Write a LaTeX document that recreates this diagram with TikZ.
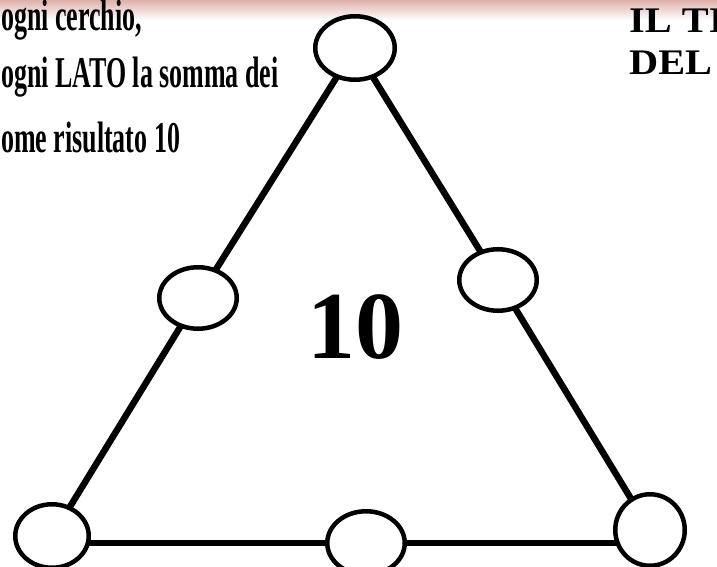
\documentclass[tikz,border=0pt]{standalone}
\usepackage{fontspec}
\usepackage{graphicx}
\setmainfont{Liberation Serif}
\usetikzlibrary{shapes.geometric,backgrounds}
\definecolor{bandpink}{RGB}{224,176,170}
\tikzset{
  ring/.style={draw=black, fill=white, ellipse, line width=4.5pt, inner sep=0pt},
  side/.style={draw=black, line width=6.5pt},
  hint/.style={anchor=base west, inner sep=0pt, font=\fontsize{44}{44}\selectfont\bfseries},
  title/.style={anchor=base west, inner sep=0pt, font=\fontsize{36}{36}\selectfont\bfseries},
}
\begin{document}
\begin{tikzpicture}[x=1pt,y=-1pt]
\useasboundingbox (0,0) rectangle (717,567);
\clip (0,0) rectangle (717,567);
% circles
\node[ring, minimum width=79.5pt, minimum height=63.5pt] (top) at (355,48) {};
\node[ring, minimum width=77.5pt, minimum height=61.5pt] (lm) at (198,298) {};
\node[ring, minimum width=77.5pt, minimum height=61.5pt] (rm) at (498,280) {};
\node[ring, minimum width=73.5pt, minimum height=63.5pt] (bl) at (52,536) {};
\node[ring, minimum width=77.5pt, minimum height=63.5pt] (bm) at (366,543) {};
\node[ring, minimum width=69.5pt, minimum height=71.5pt] (br) at (650,530) {};
\begin{pgfonlayer}{background}
\fill[white] (0,0) rectangle (717,567);
\shade[top color=bandpink, bottom color=white] (0,0) rectangle (717,20);
\draw[side] (top.center) -- (lm.center) -- (bl.center);
\draw[side] (top.center) -- (rm.center) -- (br.center);
\draw[side] (bl |- bm) -- (bm.center) -- (br |- bm);
\end{pgfonlayer}
% central number
\node[anchor=base, inner sep=0pt, font=\fontsize{96}{96}\selectfont\bfseries] (ten) at (355,358) {10};
% instructions (left, condensed)
\node[hint] (l1) at (1,31) {\scalebox{0.59}[1]{ogni cerchio,}};
\node[hint] (l2) at (1,88) {\scalebox{0.59}[1]{ogni LATO la somma dei}};
\node[hint] (l3) at (1,152) {\scalebox{0.59}[1]{ome risultato 10}};
% title (right)
\node[title] (t1) at (629,33) {\scalebox{1.12}[1]{IL TI}};
\node[title] (t2) at (629,75) {\scalebox{1.12}[1]{DEL}};
\end{tikzpicture}
\end{document}
